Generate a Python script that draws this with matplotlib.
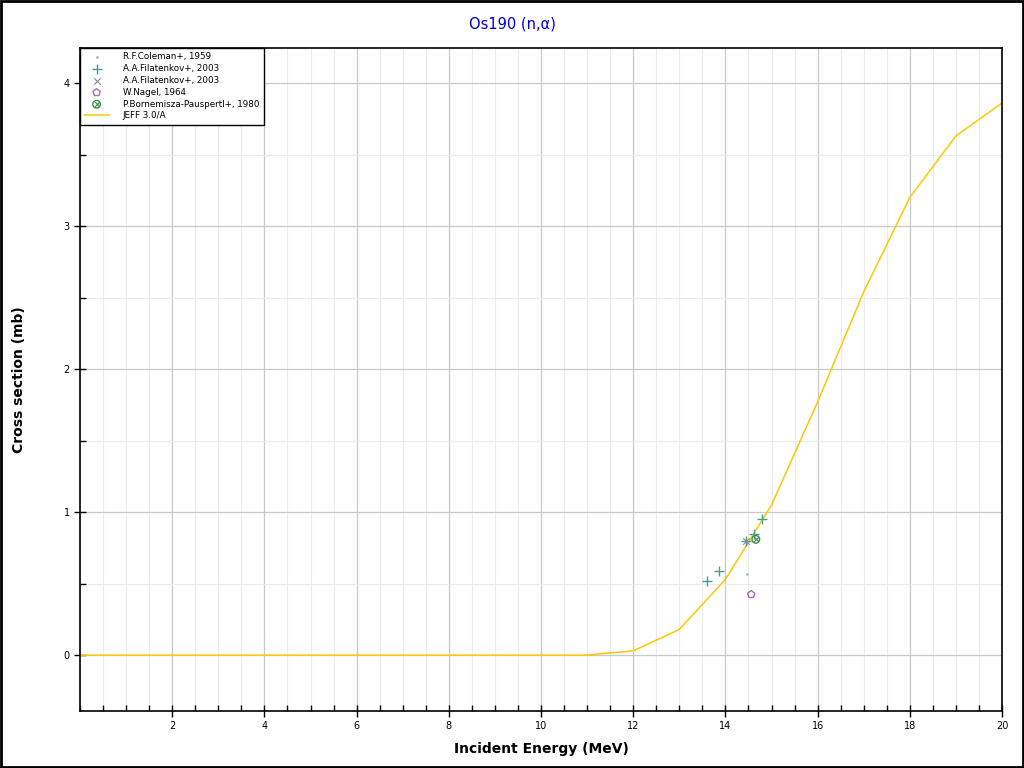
import matplotlib
matplotlib.use("Agg")
import matplotlib.pyplot as plt
from matplotlib.patches import Rectangle
from matplotlib.legend_handler import HandlerTuple
from matplotlib.ticker import MultipleLocator

# JEFF 3.0/A evaluation
jeff_e = [0.0, 10.9, 11.0, 12.0, 13.0, 14.0, 15.0, 16.0, 17.0, 18.0, 19.0, 20.0]
jeff_xs = [0.0, 0.0, 0.002, 0.03, 0.18, 0.53, 1.05, 1.77, 2.54, 3.20, 3.63, 3.86]

# experimental data
coleman_e = [14.47]
coleman_xs = [0.57]
filat_plus_e = [13.60, 13.86, 14.45, 14.63, 14.79]
filat_plus_xs = [0.52, 0.587, 0.797, 0.844, 0.949]
filat_x_e = [14.45]
filat_x_xs = [0.80]
nagel_e = [14.56]
nagel_xs = [0.425]
borne_e = [14.66]
borne_xs = [0.81]

x_ticks = [2, 4, 6, 8, 10, 12, 14, 16, 18, 20]

fig = plt.figure(figsize=(10.24, 7.68), dpi=100)
fig.patches.append(Rectangle((0.001, 0.001), 0.998, 0.998, transform=fig.transFigure,
                             fill=False, edgecolor="black", linewidth=2))
ax = fig.add_axes([80 / 1024, 57 / 768, 922 / 1024, 663 / 768])

h_jeff, = ax.plot(jeff_e, jeff_xs, color="#FFC800", linewidth=1.1, zorder=2)

h_col = ax.scatter(coleman_e, coleman_xs, marker=".", s=4, color="#a8b8c8", zorder=3)
h_fp = ax.scatter(filat_plus_e, filat_plus_xs, marker="+", s=45, color="#4a9a9a",
                  linewidths=1.0, zorder=3)
h_fx = ax.scatter(filat_x_e, filat_x_xs, marker="x", s=22, color="#8a8a8a",
                  linewidths=0.8, zorder=3)
h_na = ax.scatter(nagel_e, nagel_xs, marker="p", s=30, facecolors="none",
                  edgecolors="#a070b0", linewidths=1.0, zorder=3)
h_bo1 = ax.scatter(borne_e, borne_xs, marker="o", s=30, facecolors="none",
                   edgecolors="#3a8a4a", linewidths=1.0, zorder=3)
h_bo2 = ax.scatter(borne_e, borne_xs, marker="x", s=12, color="#3a8a4a",
                   linewidths=0.8, zorder=3)

ax.set_xlim(0, 20)
ax.set_ylim(-0.39, 4.245)
ax.set_xticks(x_ticks)
ax.xaxis.set_minor_locator(MultipleLocator(0.5))
ax.yaxis.set_major_locator(MultipleLocator(1))
ax.yaxis.set_minor_locator(MultipleLocator(0.5))
ax.grid(which="major", color="#c8c8c8", linewidth=0.9)
ax.grid(which="minor", color="#ececec", linewidth=0.8)
ax.set_axisbelow(True)
ax.tick_params(which="major", direction="inout", length=8, labelsize=7, width=1)
ax.tick_params(which="minor", direction="in", length=4, width=1)
for s in ax.spines.values():
    s.set_linewidth(1.2)

ax.set_xlabel("Incident Energy (MeV)", fontsize=10, fontweight="bold", va="center")
ax.xaxis.set_label_coords(0.5, -38 / 663)
ax.set_ylabel("Cross section (mb)", fontsize=10, fontweight="bold", va="center")
ax.yaxis.set_label_coords(-61 / 922, 0.5)
fig.text(0.5, 1 - 24 / 768, "Os190 (n,\u03b1)", color="#0000cc", fontsize=10.5,
         ha="center", va="center")

leg = ax.legend(
    [h_col, h_fp, h_fx, h_na, (h_bo1, h_bo2), h_jeff],
    ["R.F.Coleman+, 1959", "A.A.Filatenkov+, 2003", "A.A.Filatenkov+, 2003",
     "W.Nagel, 1964", "P.Bornemisza-Pauspertl+, 1980", "JEFF 3.0/A"],
    handler_map={tuple: HandlerTuple(ndivide=1)},
    loc="upper left", fontsize=6.3, frameon=True, fancybox=False, framealpha=1,
    edgecolor="black", borderaxespad=0, handlelength=2.8, handletextpad=1.6,
    labelspacing=0.32, borderpad=0.5,
)
leg.get_frame().set_linewidth(1.0)

fig.savefig("out.png", dpi=100)
